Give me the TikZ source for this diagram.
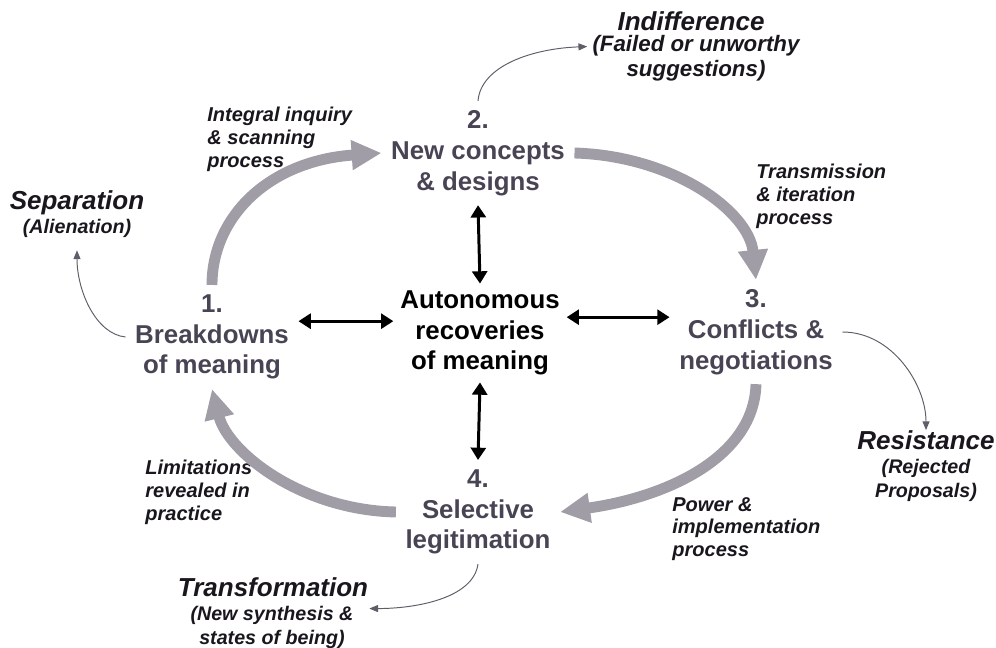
\documentclass[tikz,border=0pt]{standalone}
\usepackage{fontspec}
\setmainfont{Liberation Sans}
\usetikzlibrary{arrows.meta}
\definecolor{stagecol}{RGB}{72,68,84}
\definecolor{flowcol}{RGB}{160,157,166}
\definecolor{thincol}{RGB}{95,93,104}
\definecolor{labcol}{RGB}{25,22,30}
\tikzset{
  stage/.style={inner sep=0pt, outer sep=5.5pt, align=center, text=stagecol,
    font=\fontsize{14.7}{17.5}\selectfont\bfseries},
  core/.style={inner sep=0pt, outer sep=4pt, align=center, text=black,
    font=\fontsize{14.7}{17.5}\selectfont\bfseries},
  proclab/.style={inner sep=0pt, align=left, anchor=west, text=labcol,
    font=\fontsize{11.4}{13}\selectfont\bfseries\itshape},
  outtitle/.style={inner sep=0pt, align=center, text=labcol,
    font=\fontsize{14.8}{16}\selectfont\bfseries\itshape},
  outsub/.style={inner sep=0pt, outer sep=3pt, align=center, text=labcol,
    font=\fontsize{11.2}{13.6}\selectfont\bfseries\itshape},
  flow/.style={draw=flowcol, line width=6.2pt, -{Triangle[length=17pt,width=16pt]}},
  link/.style={draw=black, line width=1.7pt,
    {Triangle[length=7pt,width=8.5pt]}-{Triangle[length=7pt,width=8.5pt]}},
  exitarrow/.style={draw=thincol, line width=0.55pt, -{Triangle[length=5pt,width=4pt]}}
}
\begin{document}
\begin{tikzpicture}[x=0.02cm,y=-0.02cm]
\useasboundingbox (0,0) rectangle (996,648);
% stages
\node[stage] (n1) at (212,337) {1.\\Breakdowns\\of meaning};
\node[stage] (n2) at (478,153) {2.\\New concepts\\\& designs};
\node[stage] (n3) at (756,332) {3.\\Conflicts \&\\negotiations};
\node[stage] (n4) at (478,512) {4.\\Selective\\legitimation};
\node[core] (nc) at (480,333) {Autonomous\\recoveries\\of meaning};
% process labels
\node[proclab] (l12) at (207,139) {Integral inquiry\\\& scanning\\process};
\node[proclab] (l23) at (756,196) {Transmission\\\& iteration\\process};
\node[proclab] (l34) at (672,529) {Power \&\\implementation\\process};
\node[proclab] (l41) at (145,492) {Limitations\\revealed in\\practice};
% outcomes
\node[outtitle] (sept) at (77,203) {Separation};
\node[outsub] (seps) at (77,228) {(Alienation)};
\node[outtitle] (indt) at (691,21) {Indifference};
\node[outsub, font=\fontsize{12.7}{14.2}\selectfont\bfseries\itshape] (inds) at (696,58) {(Failed or unworthy\\suggestions)};
\node[outtitle] (rest) at (926,440) {Resistance};
\node[outsub] (ress) at (926,480) {(Rejected\\Proposals)};
\node[outtitle] (trat) at (273,587) {Transformation};
\node[outsub] (tras) at (272,627) {(New synthesis \&\\states of being)};
% main cycle
\draw[flow] (n1.north) .. controls +(0,-68) and +(-113,8) .. (n2.west);
\draw[flow] (n2.east) .. controls +(100,3) and +(-7,-68) .. (n3.north);
\draw[flow] (n3.south) .. controls +(-2,73) and +(107,-15) .. (n4.east);
\draw[flow] (n4.west) .. controls +(-95,-2) and +(16,63) .. (n1.south);
% links to core
\draw[link] (n2.south) -- (nc.north);
\draw[link] (nc.south) -- (n4.north);
\draw[link] ([yshift=9pt]n1.east) -- ([yshift=9pt]n1.east -| nc.west);
\draw[link] ([yshift=9pt]nc.east) -- ([yshift=9pt]nc.east -| n3.west);
% exits
\draw[exitarrow] (n2.north) .. controls +(3,-35) and +(-55,2) .. (inds.174);
\draw[exitarrow] (n1.west) .. controls +(-30,-3) and +(0,40) .. ([yshift=-4.5pt]seps.south);
\draw[exitarrow] (n3.east) .. controls +(50,0) and +(0,-45) .. (rest.north);
\draw[exitarrow] (n4.south) .. controls +(-5,35) and +(45,0) .. ([xshift=6pt]tras.12);
\end{tikzpicture}
\end{document}
